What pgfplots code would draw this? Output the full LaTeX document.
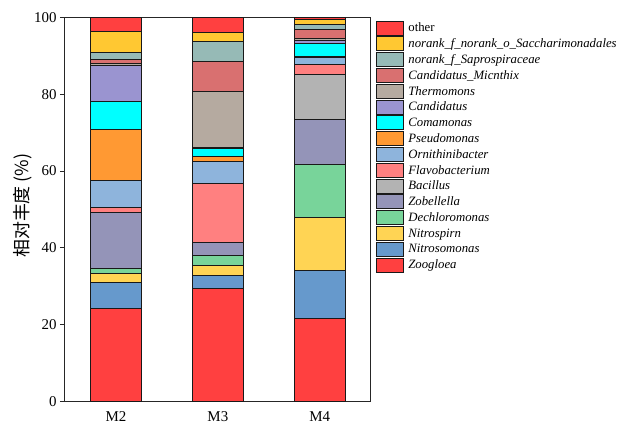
\documentclass[border=0pt]{standalone}
\usepackage{pgfplots}
\pgfplotsset{compat=1.18}
\usepackage{fontspec}
\setmainfont{Liberation Serif}
\newfontfamily\cjk{Noto Sans CJK SC}
\definecolor{cZoo}{HTML}{FF4040}
\definecolor{cNitroso}{HTML}{6699CC}
\definecolor{cNitrosp}{HTML}{FFD454}
\definecolor{cDech}{HTML}{78D49A}
\definecolor{cZob}{HTML}{9494B8}
\definecolor{cBac}{HTML}{B3B3B3}
\definecolor{cFlavo}{HTML}{FF8080}
\definecolor{cOrni}{HTML}{8EB4DC}
\definecolor{cPseu}{HTML}{FF9933}
\definecolor{cComa}{HTML}{00FFFF}
\definecolor{cCand}{HTML}{9A94D0}
\definecolor{cTherm}{HTML}{B5AAA0}
\definecolor{cMic}{HTML}{D97070}
\definecolor{cSapro}{HTML}{96BAB6}
\definecolor{cSacch}{HTML}{FFC832}
\definecolor{cOther}{HTML}{FF4040}
\begin{document}
\begin{tikzpicture}
\path[use as bounding box] (-65bp,-23.5bp) rectangle (559bp,401.5bp);
\begin{axis}[
  at={(0,0)}, anchor=south west,
  scale only axis, width=305.7bp, height=384bp,
  ybar stacked, bar width=0.5,
  xmin=-0.5, xmax=2.5, ymin=0, ymax=100,
  xtick={0,1,2}, xticklabels={M2,M3,M4},
  x tick style={draw=none},
  ytick={0,20,40,60,80,100},
  tick align=outside, tick pos=left,
  major tick length=5bp,
  axis line style={black!85, line width=1bp},
  every tick/.style={black!85, line width=1bp},
  /pgf/number format/assume math mode=true,
  tick label style={font=\fontsize{15}{18}\selectfont},
  xticklabel style={yshift=-2bp},
  ylabel={\cjk 相对丰度 (\%)},
  ylabel style={at={(axis description cs:-0.137,0.51)}, anchor=center, font=\fontsize{18}{20}\selectfont},
  every axis plot/.append style={draw=black!90, line width=1bp},
  reverse legend,
  legend image code/.code={\draw[#1] (0bp,-7bp) rectangle (27bp,7bp);},
  legend style={at={(axis description cs:1,1)}, anchor=north west, xshift=5.5bp, yshift=-3bp,
    draw=none, fill=none, inner sep=0pt, row sep=0.8bp, column sep=4bp,
    nodes={inner sep=0pt}, cells={anchor=west},
    font=\fontsize{12.8}{14}\selectfont},
]
\addplot[fill=cZoo] coordinates {(0,24.2) (1,29.4) (2,21.6)};
\addlegendentry{\itshape Zoogloea}
\addplot[fill=cNitroso] coordinates {(0,6.7) (1,3.5) (2,12.5)};
\addlegendentry{\itshape Nitrosomonas}
\addplot[fill=cNitrosp] coordinates {(0,2.4) (1,2.6) (2,13.9)};
\addlegendentry{\itshape Nitrospirn}
\addplot[fill=cDech] coordinates {(0,1.3) (1,2.4) (2,13.6)};
\addlegendentry{\itshape Dechloromonas}
\addplot[fill=cZob] coordinates {(0,14.5) (1,3.5) (2,11.8)};
\addlegendentry{\itshape Zobellella}
\addplot[fill=cBac] coordinates {(0,0.1) (1,0.0) (2,11.8)};
\addlegendentry{\itshape Bacillus}
\addplot[fill=cFlavo] coordinates {(0,1.3) (1,15.4) (2,2.5)};
\addlegendentry{\itshape Flavobacterium}
\addplot[fill=cOrni] coordinates {(0,7.1) (1,5.8) (2,1.8)};
\addlegendentry{\itshape Ornithinibacter}
\addplot[fill=cPseu] coordinates {(0,13.3) (1,1.2) (2,0.3)};
\addlegendentry{\itshape Pseudomonas}
\addplot[fill=cComa] coordinates {(0,7.3) (1,2.2) (2,3.3)};
\addlegendentry{\itshape Comamonas}
\addplot[fill=cCand] coordinates {(0,9.4) (1,0.1) (2,1.0)};
\addlegendentry{\itshape Candidatus}
\addplot[fill=cTherm] coordinates {(0,0.3) (1,14.6) (2,0.3)};
\addlegendentry{\itshape Thermomons}
\addplot[fill=cMic] coordinates {(0,1.2) (1,7.9) (2,2.4)};
\addlegendentry{\itshape Candidatus\_Micnthix}
\addplot[fill=cSapro] coordinates {(0,1.9) (1,5.2) (2,1.5)};
\addlegendentry{\itshape norank\_f\_Saprospiraceae}
\addplot[fill=cSacch] coordinates {(0,5.4) (1,2.4) (2,1.1)};
\addlegendentry{\itshape norank\_f\_norank\_o\_Saccharimonadales}
\addplot[fill=cOther] coordinates {(0,3.6) (1,3.8) (2,0.6)};
\addlegendentry{other}
\end{axis}
\end{tikzpicture}
\end{document}
